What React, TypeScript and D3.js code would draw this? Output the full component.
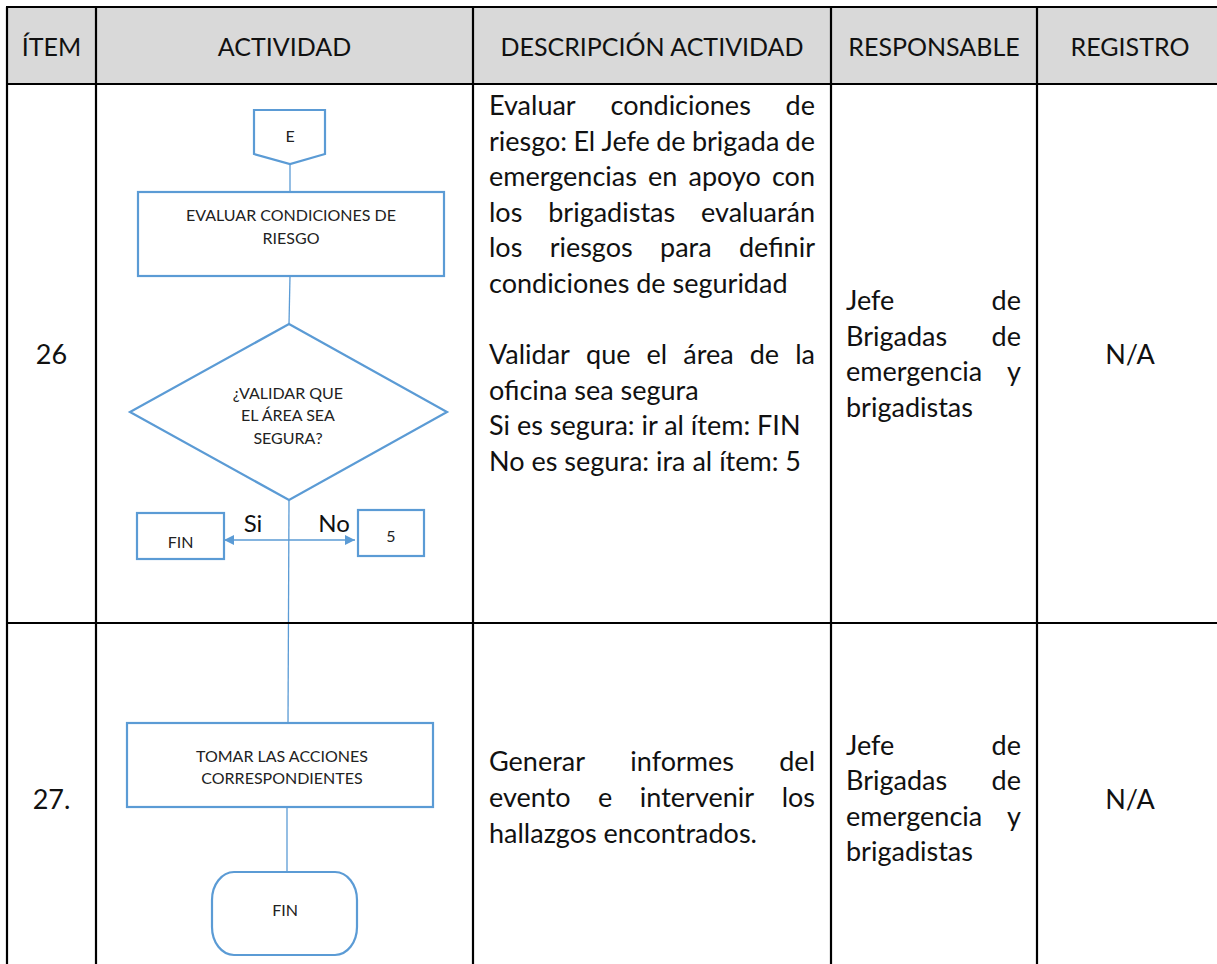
import { useMemo } from 'react'
import * as d3 from 'd3'

// Table content
const HEADERS = ['ÍTEM', 'ACTIVIDAD', 'DESCRIPCIÓN ACTIVIDAD', 'RESPONSABLE', 'REGISTRO']
const ITEMS = ['26', '27.']

// each row: list of paragraphs, each paragraph a list of wrapped lines
const DESCRIPTIONS = [
  [
    ['Evaluar condiciones de', 'riesgo: El Jefe de brigada de', 'emergencias en apoyo con', 'los brigadistas evaluarán', 'los riesgos para definir', 'condiciones de seguridad'],
    [''],
    ['Validar que el área de la', 'oficina sea segura'],
    ['Si es segura: ir al ítem: FIN'],
    ['No es segura: ira al ítem: 5'],
  ],
  [
    ['Generar informes del', 'evento e intervenir los', 'hallazgos encontrados.'],
  ],
]
const RESPONSIBLES = [
  [['Jefe de', 'Brigadas de', 'emergencia y', 'brigadistas']],
  [['Jefe de', 'Brigadas de', 'emergencia y', 'brigadistas']],
]
const REGISTROS = ['N/A', 'N/A']

// Flowchart labels
const CONNECTOR_LABEL = 'E'
const EVALUATE_LABEL = ['EVALUAR CONDICIONES DE', 'RIESGO']
const DECISION_LABEL = ['¿VALIDAR QUE', 'EL ÁREA SEA', 'SEGURA?']
const BRANCH_LABELS = ['Si', 'No']
const BRANCH_TARGETS = ['FIN', '5']
const ACTION_LABEL = ['TOMAR LAS ACCIONES', 'CORRESPONDIENTES']
const END_LABEL = 'FIN'

const FONT = 'Lato, "Noto Sans", sans-serif'
const HEAD_SIZE = 25
const BODY_SIZE = 27
const FLOW_SIZE = 16
const BLUE = '#5b9bd5'

let canvasCtx: CanvasRenderingContext2D | null = null
function textWidth(text: string, size: number) {
  if (!canvasCtx) canvasCtx = document.createElement('canvas').getContext('2d')
  canvasCtx!.font = `${size}px Lato`
  return canvasCtx!.measureText(text).width
}

// wrapped lines, justified except the last line of each paragraph
function Paragraphs({ paras, x0, x1, y0, lineH, size }: any) {
  const lines: { text: string; justify: boolean }[] = []
  paras.forEach((p: string[]) => p.forEach((t, i) => lines.push({ text: t, justify: i < p.length - 1 })))
  return (
    <g>
      {lines.map((ln, li) => {
        const y = y0 + li * lineH
        const words = ln.text.split(' ')
        if (!ln.justify || words.length < 2) {
          return <text key={li} x={x0} y={y}>{ln.text}</text>
        }
        const widths = words.map(w => textWidth(w, size))
        const gap = (x1 - x0 - d3.sum(widths)) / (words.length - 1)
        let cx = x0
        return (
          <text key={li} y={y}>
            {words.map((w, wi) => {
              const tx = cx
              cx += widths[wi] + gap
              return <tspan key={wi} x={tx}>{w}</tspan>
            })}
          </text>
        )
      })}
    </g>
  )
}

function CenteredLines({ lines, cx, cy, lineH }: any) {
  const half = ((lines.length - 1) * lineH) / 2
  const y = d3.scaleLinear().domain([0, Math.max(lines.length - 1, 1)]).range([cy - half, cy + half])
  return (
    <text textAnchor="middle" dominantBaseline="central">
      {lines.map((t: string, i: number) => (
        <tspan key={i} x={cx} y={lines.length === 1 ? cy : y(i)}>{t}</tspan>
      ))}
    </text>
  )
}

export default function App() {
  const W = 1217
  const H = 964

  const colX = useMemo(() => Array.from(d3.cumsum([7, 89, 377, 358, 206, 186])), [])
  const rowY = useMemo(() => Array.from(d3.cumsum([7, 77, 539, 350])), [])
  const lineH = 35.6
  const pad = 16

  // description: first row top aligned, second centred
  const descTop = (r: number) => {
    const n = d3.sum(DESCRIPTIONS[r], p => p.length)
    if (r === 0) return rowY[1] + 31
    return (rowY[r + 1] + rowY[r + 2]) / 2 - ((n - 1) * lineH) / 2 + 9
  }
  const respTop = (r: number) => {
    const n = d3.sum(RESPONSIBLES[r], p => p.length)
    return (rowY[r + 1] + rowY[r + 2]) / 2 - ((n - 1) * lineH) / 2 + 10
  }

  // flowchart geometry
  const fx = 290
  const conn = { x0: 254, x1: 325, y0: 110, ys: 154, tip: 164 }
  const evalBox = { x0: 138, x1: 444, y0: 192, y1: 276 }
  const dia = { cx: 289, top: 324, mid: 412, bottom: 500, left: 130, right: 447 }
  const yesBox = { x0: 137, x1: 224, y0: 513, y1: 559 }
  const noBox = { x0: 358, x1: 424, y0: 510, y1: 556 }
  const branchY = 540
  const actBox = { x0: 127, x1: 433, y0: 723, y1: 807 }
  const endBox = { x0: 212, x1: 357, y0: 872, y1: 955 }

  const connectorPath = d3.line()([
    [conn.x0, conn.y0], [conn.x1, conn.y0], [conn.x1, conn.ys], [fx, conn.tip], [conn.x0, conn.ys],
  ]) + 'Z'
  const diamondPath = d3.line()([
    [dia.cx, dia.top], [dia.right, dia.mid], [dia.cx, dia.bottom], [dia.left, dia.mid],
  ]) + 'Z'

  return (
    <svg
      width={W}
      height={H}
      style={{ position: 'absolute', left: 0, top: 0, background: '#fff' }}
      fontFamily={FONT}
    >
      <defs>
        <marker id="arrow" viewBox="0 0 10 10" refX="10" refY="5" markerWidth="10" markerHeight="10" markerUnits="userSpaceOnUse" orient="auto">
          <path d="M0,0 L10,5 L0,10 Z" fill={BLUE} />
        </marker>
      </defs>

      {/* header */}
      <rect x={colX[0]} y={rowY[0]} width={colX[5] - colX[0]} height={rowY[1] - rowY[0]} fill="#d9d9d9" />
      <g fontSize={HEAD_SIZE} fill="#111">
        {HEADERS.map((h, i) => (
          <text key={h} x={(colX[i] + colX[i + 1]) / 2} y={(rowY[0] + rowY[1]) / 2} textAnchor="middle" dominantBaseline="central">{h}</text>
        ))}
      </g>

      {/* body cells */}
      <g fontSize={BODY_SIZE} fill="#111">
        {ITEMS.map((it, r) => (
          <text key={'i' + r} x={(colX[0] + colX[1]) / 2} y={(rowY[r + 1] + rowY[r + 2]) / 2} textAnchor="middle" dominantBaseline="central">{it}</text>
        ))}
        {DESCRIPTIONS.map((paras, r) => (
          <Paragraphs key={'d' + r} paras={paras} x0={colX[2] + pad} x1={colX[3] - pad} y0={descTop(r)} lineH={lineH} size={BODY_SIZE} />
        ))}
        {RESPONSIBLES.map((paras, r) => (
          <Paragraphs key={'r' + r} paras={paras} x0={colX[3] + pad - 1} x1={colX[4] - pad} y0={respTop(r)} lineH={lineH} size={BODY_SIZE} />
        ))}
        {REGISTROS.map((t, r) => (
          <text key={'g' + r} x={(colX[4] + colX[5]) / 2} y={(rowY[r + 1] + rowY[r + 2]) / 2} textAnchor="middle" dominantBaseline="central">{t}</text>
        ))}
      </g>

      {/* flowchart connectors */}
      <g stroke={BLUE} strokeWidth={1.3} fill="none">
        <line x1={fx} x2={fx} y1={conn.tip} y2={evalBox.y0} />
        <line x1={fx} x2={fx - 1} y1={evalBox.y1} y2={dia.top} />
        <line x1={dia.cx} x2={dia.cx - 1} y1={dia.bottom} y2={actBox.y0} />
        <line x1={dia.cx - 2} x2={dia.cx - 2} y1={actBox.y1} y2={endBox.y0} />
        <line x1={dia.cx} x2={yesBox.x1} y1={branchY} y2={branchY} markerEnd="url(#arrow)" />
        <line x1={dia.cx} x2={noBox.x0 - 3} y1={branchY} y2={branchY} markerEnd="url(#arrow)" />
      </g>

      {/* flowchart shapes */}
      <g stroke={BLUE} strokeWidth={2.2} fill="#fff">
        <path d={connectorPath} />
        <rect x={evalBox.x0} y={evalBox.y0} width={evalBox.x1 - evalBox.x0} height={evalBox.y1 - evalBox.y0} />
        <path d={diamondPath} />
        <rect x={yesBox.x0} y={yesBox.y0} width={yesBox.x1 - yesBox.x0} height={yesBox.y1 - yesBox.y0} />
        <rect x={noBox.x0} y={noBox.y0} width={noBox.x1 - noBox.x0} height={noBox.y1 - noBox.y0} />
        <rect x={actBox.x0} y={actBox.y0} width={actBox.x1 - actBox.x0} height={actBox.y1 - actBox.y0} />
        <rect x={endBox.x0} y={endBox.y0} width={endBox.x1 - endBox.x0} height={endBox.y1 - endBox.y0} rx={22} ry={28} />
      </g>

      {/* flowchart labels */}
      <g fontSize={FLOW_SIZE} fill="#222">
        <CenteredLines lines={[CONNECTOR_LABEL]} cx={fx} cy={135} lineH={23} />
        <CenteredLines lines={EVALUATE_LABEL} cx={(evalBox.x0 + evalBox.x1) / 2} cy={225} lineH={23} />
        <CenteredLines lines={DECISION_LABEL} cx={dia.cx - 1} cy={414} lineH={22.5} />
        <CenteredLines lines={[BRANCH_TARGETS[0]]} cx={(yesBox.x0 + yesBox.x1) / 2} cy={541} lineH={23} />
        <CenteredLines lines={[BRANCH_TARGETS[1]]} cx={(noBox.x0 + noBox.x1) / 2} cy={535} lineH={23} />
        <CenteredLines lines={ACTION_LABEL} cx={282} cy={766} lineH={22} />
        <CenteredLines lines={[END_LABEL]} cx={285} cy={909} lineH={23} />
      </g>
      <g fontSize={24} fill="#111">
        <text x={253} y={532} textAnchor="middle">{BRANCH_LABELS[0]}</text>
        <text x={334} y={532} textAnchor="middle">{BRANCH_LABELS[1]}</text>
      </g>

      {/* grid lines */}
      <g stroke="#000" strokeWidth={2.2}>
        {colX.map((x, i) => (
          <line key={'c' + i} x1={x} x2={x} y1={rowY[0]} y2={rowY[3]} />
        ))}
        {rowY.slice(0, 3).map((y, i) => (
          <line key={'r' + i} x1={colX[0] - 1} x2={colX[5]} y1={y} y2={y} />
        ))}
      </g>
    </svg>
  )
}
